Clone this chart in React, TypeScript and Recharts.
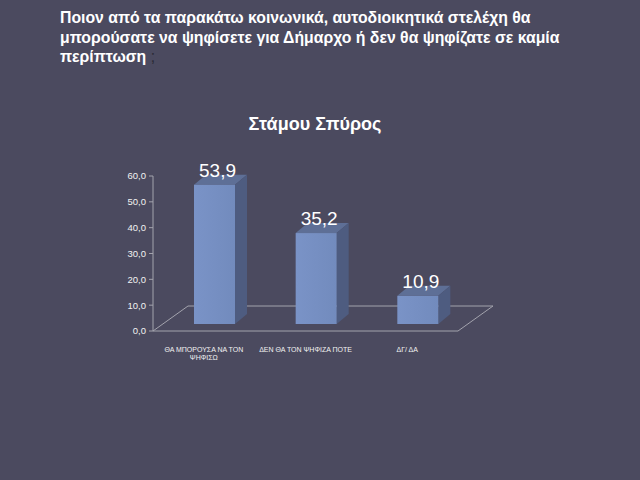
import { BarChart, Bar, XAxis, YAxis, LabelList, Customized, usePlotArea } from 'recharts';

const categories = ['ΘΑ ΜΠΟΡΟΥΣΑ ΝΑ ΤΟΝ ΨΗΦΙΣΩ', 'ΔΕΝ ΘΑ ΤΟΝ ΨΗΦΙΖΑ ΠΟΤΕ', 'ΔΓ/ ΔΑ'];
const values = [53.9, 35.2, 10.9];
const yTicks = [0, 10, 20, 30, 40, 50, 60];

const data = categories.map((name, i) => ({ name, value: values[i] }));

const BG = '#4b4a5f';
const GRID = '#a3a3ad';
const FONT = '"Liberation Sans", Arial, sans-serif';

// pseudo 3D: bars sit a bit back on the floor
const SHIFT_X = 11;
const SHIFT_Y = 7;
const DEPTH_X = 12;
const DEPTH_Y = 10;

const fmt = (v: number) => v.toFixed(1).replace('.', ',');

function Bar3D(props: any) {
  const { x, y, width, height } = props;
  const fx = x + SHIFT_X;
  const fy = y - SHIFT_Y;
  return (
    <g>
      <polygon
        points={`${fx},${fy} ${fx + width},${fy} ${fx + width + DEPTH_X},${fy - DEPTH_Y} ${fx + DEPTH_X},${fy - DEPTH_Y}`}
        fill="#5e6f96"
      />
      <polygon
        points={`${fx + width},${fy} ${fx + width + DEPTH_X},${fy - DEPTH_Y} ${fx + width + DEPTH_X},${fy + height - DEPTH_Y} ${fx + width},${fy + height}`}
        fill="#4e5c80"
      />
      <rect x={fx} y={fy} width={width} height={height} fill="url(#barFront)" />
    </g>
  );
}

function ValueLabel(props: any) {
  const { x, y, width, value } = props;
  return (
    <text
      x={x + SHIFT_X + width / 2 + 3}
      y={y - SHIFT_Y - 8}
      textAnchor="middle"
      fill="#ffffff"
      fontSize={19}
      fontFamily={FONT}
    >
      {fmt(value)}
    </text>
  );
}

function CategoryTick(props: any) {
  const { x, y, payload } = props;
  const words = String(payload.value).split(' ');
  const lines: string[] = [];
  let cur = '';
  words.forEach(w => {
    const next = cur ? cur + ' ' + w : w;
    if (next.length > 23 && cur) {
      lines.push(cur);
      cur = w;
    } else {
      cur = next;
    }
  });
  if (cur) lines.push(cur);
  return (
    <text x={x} y={y + 13} textAnchor="middle" fill="#f2f2f2" fontSize={7} fontFamily={FONT}>
      {lines.map((l, i) => (
        <tspan key={i} x={x} dy={i === 0 ? 0 : 7.6}>{l}</tspan>
      ))}
    </text>
  );
}

function Floor() {
  const area = usePlotArea();
  if (!area) return null;
  const { x, y, width, height } = area;
  const by = y + height;
  const dx = 35;
  const dy = 25;
  return (
    <g stroke={GRID} strokeWidth={1} fill="none">
      <line x1={x} y1={by} x2={x + dx} y2={by - dy} />
      <line x1={x + dx} y1={by - dy} x2={x + width + dx} y2={by - dy} />
      <line x1={x + width} y1={by} x2={x + width + dx} y2={by - dy} />
    </g>
  );
}

export default function App() {
  return (
    <div style={{ position: 'fixed', left: 0, top: 0, width: 640, height: 480, background: BG, fontFamily: FONT, overflow: 'hidden' }}>
      <div style={{ position: 'absolute', left: 60, top: 8, width: 570, color: '#ffffff', fontWeight: 'bold', fontSize: 15.8, lineHeight: '19.5px' }}>
        Ποιον από τα παρακάτω κοινωνικά, αυτοδιοικητικά στελέχη θα
        <br />
        μπορούσατε να ψηφίσετε για Δήμαρχο ή δεν θα ψηφίζατε σε καμία
        <br />
        περίπτωση <span style={{ color: '#2a2a36', fontWeight: 'normal' }}>;</span>
      </div>
      <div style={{ position: 'absolute', left: 0, width: 630, top: 114, textAlign: 'center', color: '#ffffff', fontWeight: 'bold', fontSize: 18 }}>
        Στάμου Σπύρος
      </div>
      <div style={{ position: 'absolute', left: 0, top: 0 }}>
        <BarChart width={640} height={480} data={data} margin={{ top: 176, right: 182, bottom: 119, left: 0 }} barSize={41}>
          <defs>
            <linearGradient id="barFront" x1="0" y1="0" x2="1" y2="0">
              <stop offset="0%" stopColor="#7a93c7" />
              <stop offset="100%" stopColor="#728bbd" />
            </linearGradient>
          </defs>
          <Customized component={<Floor />} />
          <XAxis
            dataKey="name"
            height={30}
            axisLine={{ stroke: GRID }}
            tickLine={false}
            tick={<CategoryTick />}
            interval={0}
          />
          <YAxis
            width={153}
            domain={[0, 60]}
            ticks={yTicks}
            tickFormatter={fmt}
            axisLine={{ stroke: GRID }}
            tickLine={{ stroke: GRID }}
            tickSize={4}
            tickMargin={3}
            tick={{ fill: '#f2f2f2', fontSize: 9.5, fontFamily: FONT }}
          />
          <Bar dataKey="value" shape={<Bar3D />} isAnimationActive={false}>
            <LabelList dataKey="value" content={<ValueLabel />} />
          </Bar>
        </BarChart>
      </div>
    </div>
  );
}
